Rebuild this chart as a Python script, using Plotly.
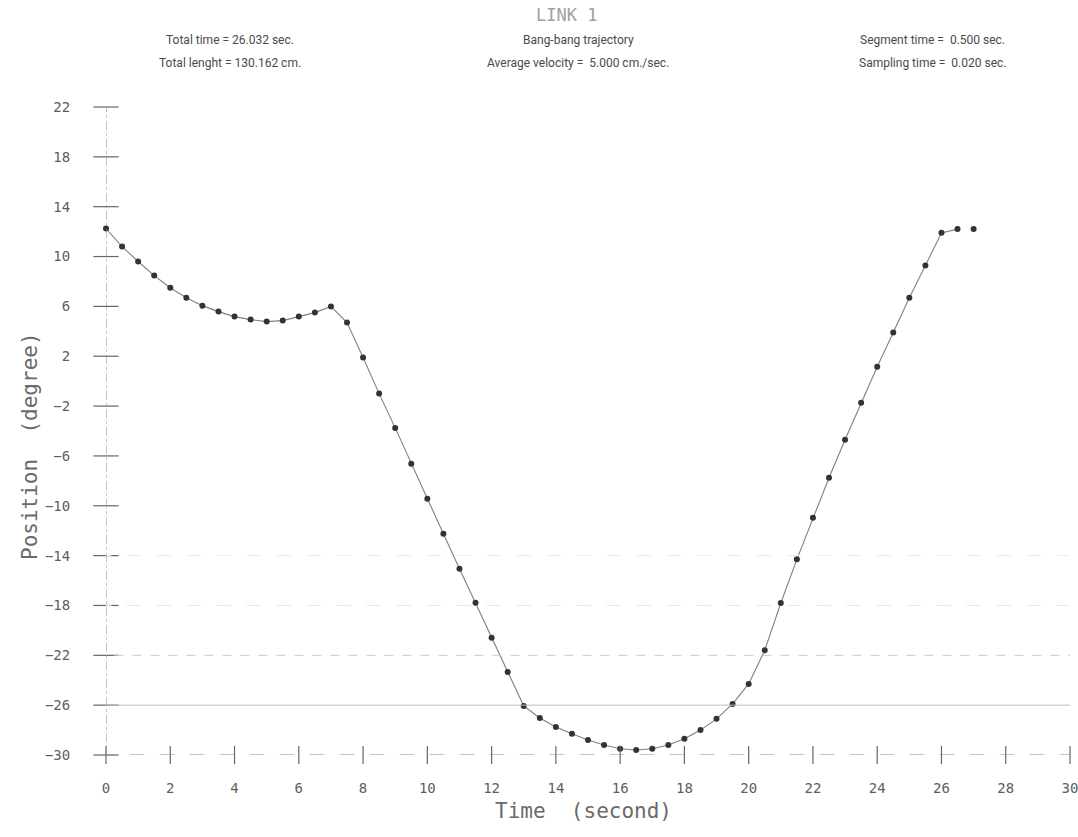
import plotly.graph_objects as go

# Joint trajectory samples (time in s, position in degrees)
time_s = [0.0, 0.5, 1.0, 1.5, 2.0, 2.5, 3.0, 3.5, 4.0, 4.5, 5.0, 5.5, 6.0, 6.5,
          7.0, 7.5, 8.0, 8.5, 9.0, 9.5, 10.0, 10.5, 11.0, 11.5, 12.0, 12.5, 13.0,
          13.5, 14.0, 14.5, 15.0, 15.5, 16.0, 16.5, 17.0, 17.5, 18.0, 18.5, 19.0,
          19.5, 20.0, 20.5, 21.0, 21.5, 22.0, 22.5, 23.0, 23.5, 24.0, 24.5, 25.0,
          25.5, 26.0, 26.5, 27.0]
position_deg = [12.25, 10.8, 9.6, 8.47, 7.5, 6.7, 6.06, 5.58, 5.18, 4.94, 4.78, 4.86,
                5.18, 5.5, 6.0, 4.7, 1.9, -1.0, -3.75, -6.63, -9.44, -12.25, -15.06,
                -17.79, -20.6, -23.33, -26.06, -27.03, -27.75, -28.3, -28.8, -29.2,
                -29.5, -29.6, -29.5, -29.2, -28.7, -28.0, -27.1, -25.9, -24.3, -21.6,
                -17.8, -14.3, -10.96, -7.75, -4.7, -1.73, 1.16, 3.9, 6.7, 9.28, 11.9,
                12.2, 12.2]
n_connected = 54  # the last sample is plotted without a connecting segment

x_ticks = [0, 2, 4, 6, 8, 10, 12, 14, 16, 18, 20, 22, 24, 26, 28, 30]
y_ticks = [22, 18, 14, 10, 6, 2, -2, -6, -10, -14, -18, -22, -26, -30]

title_text = "LINK 1"
header_left = ["Total time = 26.032 sec.", "Total lenght = 130.162 cm."]
header_mid = ["Bang-bang trajectory", "Average velocity =  5.000 cm./sec."]
header_right = ["Segment time =  0.500 sec.", "Sampling time =  0.020 sec."]

x_min, x_max = 0, 30
y_min, y_max = -30, 22

mono = "DejaVu Sans Mono"
label_grey = "#5e5e5e"

fig = go.Figure()

# trajectory line
fig.add_trace(go.Scatter(
    x=time_s[:n_connected], y=position_deg[:n_connected], mode="lines",
    line=dict(color="#808080", width=1.1), hoverinfo="skip", cliponaxis=False))
# sample points
fig.add_trace(go.Scatter(
    x=time_s, y=position_deg, mode="markers",
    marker=dict(color="#333333", size=6, line=dict(width=0)), cliponaxis=False))

# cross-shaped tick marks on both axes
fig.add_trace(go.Scatter(
    x=x_ticks, y=[y_min] * len(x_ticks), mode="markers", hoverinfo="skip",
    marker=dict(symbol="line-ns", size=13, line=dict(color="#666", width=1.2)),
    cliponaxis=False))
fig.add_trace(go.Scatter(
    x=[x_min] * len(y_ticks), y=y_ticks, mode="markers", hoverinfo="skip",
    marker=dict(symbol="line-ew", size=18, line=dict(color="#666", width=1.2)),
    cliponaxis=False))

shapes = [
    # axes
    dict(type="line", xref="x", yref="y", x0=x_min, x1=x_min, y0=y_min - 0.4, y1=y_max,
         line=dict(color="#888", width=1, dash="dashdot")),
    dict(type="line", xref="x", yref="y", x0=x_min - 0.2, x1=x_max, y0=y_min, y1=y_min,
         line=dict(color="#888", width=1, dash="longdash")),
    # faint reference lines
    dict(type="line", xref="x", yref="y", x0=x_min - 0.3, x1=x_max, y0=-26, y1=-26,
         line=dict(color="#bdbdbd", width=1)),
    dict(type="line", xref="x", yref="y", x0=x_min - 0.3, x1=x_max, y0=-22, y1=-22,
         line=dict(color="#cacaca", width=1, dash="dash")),
    dict(type="line", xref="x", yref="y", x0=x_min - 0.3, x1=x_max, y0=-18, y1=-18,
         line=dict(color="#e8e8e8", width=1, dash="longdash")),
    dict(type="line", xref="x", yref="y", x0=x_min - 0.3, x1=x_max, y0=-14, y1=-14,
         line=dict(color="#ececec", width=1, dash="longdash")),
]

annotations = [
    dict(text=title_text, x=566, y=15, font=dict(family=mono, size=17, color="#a0a0a0")),
    dict(text="Time  (second)", x=583, y=811, font=dict(family=mono, size=21, color="#6a6a6a")),
    dict(text="Position  (degree)", x=30, y=446, textangle=-90,
         font=dict(family=mono, size=21, color="#6a6a6a")),
]
# header lines
for cx, lines in ((230, header_left), (578, header_mid), (932, header_right)):
    for row, line in enumerate(lines):
        annotations.append(dict(text=line, x=cx, y=40 + 23 * row,
                                font=dict(family="Roboto", size=12, color="#4a4a4a")))

W, H = 1078, 837
# convert pixel-placed annotations to paper coordinates
pl, pr, pt, pb = 106, 8, 107, 82
pw, ph = W - pl - pr, H - pt - pb
for a in annotations:
    px, py = a["x"], a["y"]
    a["x"] = (px - pl) / pw
    a["y"] = 1 - (py - pt) / ph
    a["xref"] = "paper"
    a["yref"] = "paper"
    a["showarrow"] = False
    a["xanchor"] = "center"
    a["yanchor"] = "middle"

fig.update_layout(
    width=W, height=H,
    margin=dict(l=pl, r=pr, t=pt, b=pb, autoexpand=False),
    paper_bgcolor="white", plot_bgcolor="white",
    showlegend=False,
    shapes=shapes, annotations=annotations,
    xaxis=dict(range=[x_min, x_max], tickvals=x_ticks, showgrid=False, zeroline=False,
               showline=False, ticks="outside", ticklen=20, tickcolor="rgba(0,0,0,0)",
               ticklabeloverflow="allow", automargin=False,
               tickfont=dict(family=mono, size=14, color=label_grey)),
    yaxis=dict(range=[y_min, y_max], tickvals=y_ticks, showgrid=False, zeroline=False,
               showline=False, ticks="outside", ticklen=32, tickcolor="rgba(0,0,0,0)",
               automargin=False,
               tickfont=dict(family=mono, size=14, color=label_grey)),
)

fig.write_html("out.html")
